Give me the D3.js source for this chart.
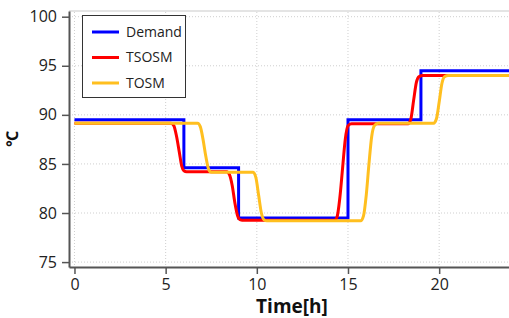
<!DOCTYPE html>
<html>
<head>
<meta charset="utf-8">
<script src="https://d3js.org/d3.v7.min.js"></script>
<style>
  body { margin: 0; background: #fff; }
  svg { display: block; font-family: "Open Sans", "Noto Sans", sans-serif; }
</style>
</head>
<body>
<div id="main_view"></div>
<script>
// chart data
var xTicks = [0, 5, 10, 15, 20];
var yTicks = [75, 80, 85, 90, 95, 100];

var demandTime = [0, 6, 9, 15, 19, 24];
var demandTemp = [89.5, 84.6, 79.5, 89.5, 94.5, 94.5];

var tsosmTime = [0, 5.3, 5.45, 5.6, 5.75, 5.88, 6.0, 6.15,
                 8.35, 8.5, 8.65, 8.8, 8.95, 9.1, 9.3,
                 14.25, 14.4, 14.55, 14.7, 14.85, 15.0, 15.2,
                 18.3, 18.45, 18.6, 18.75, 18.9, 19.1, 24];
var tsosmTemp = [89.15, 89.15, 88.9, 87.8, 86.2, 84.8, 84.3, 84.2,
                 84.2, 83.9, 82.8, 81.0, 79.7, 79.3, 79.25,
                 79.25, 79.6, 81.5, 84.5, 87.5, 88.9, 89.1,
                 89.1, 89.6, 91.5, 93.3, 93.9, 94.0, 94.0];

var tosmTime = [0, 6.75, 6.9, 7.05, 7.2, 7.35, 7.5,
                9.8, 9.95, 10.1, 10.25, 10.4, 10.55,
                15.7, 15.85, 16.0, 16.15, 16.3, 16.45, 16.65,
                19.7, 19.85, 20.0, 20.15, 20.3, 20.5, 24];
var tosmTemp = [89.15, 89.15, 88.8, 87.5, 85.8, 84.5, 84.15,
                84.15, 83.6, 81.8, 80.0, 79.3, 79.2,
                79.2, 79.7, 81.8, 85.0, 87.8, 88.9, 89.15,
                89.15, 89.6, 91.3, 93.2, 93.9, 94.0, 94.0];

var seriesNames = ["Demand", "TSOSM", "TOSM"];
var seriesColors = ["#0000ff", "#ff0000", "#ffbf1f"];

// dimensions
var W = 509, H = 318;
var plotLeft = 69, plotTop = 11, plotBottom = 267;

var xScale = d3.scaleLinear().domain([-0.3, 24]).range([plotLeft, plotLeft + 24.3 * 18.235]);
var yScale = d3.scaleLinear().domain([74.5, 100.58]).range([plotBottom, plotTop]);

var svg = d3.select("#main_view").append("svg")
    .attr("width", W)
    .attr("height", H);

function zip(ts, vs) {
  return ts.map(function(t, i) { return {t: t, v: vs[i]}; });
}

// frame top line
svg.append("line")
    .attr("x1", plotLeft).attr("x2", W)
    .attr("y1", plotTop).attr("y2", plotTop)
    .attr("stroke", "#e4e4e4")
    .attr("stroke-width", 2);

// grid
svg.append("g").selectAll("line")
    .data(xTicks)
  .enter().append("line")
    .attr("x1", function(d) { return xScale(d); })
    .attr("x2", function(d) { return xScale(d); })
    .attr("y1", plotTop + 1).attr("y2", plotBottom)
    .attr("stroke", "#cfcfcf")
    .attr("stroke-dasharray", "1,2");

svg.append("g").selectAll("line")
    .data(yTicks)
  .enter().append("line")
    .attr("x1", plotLeft).attr("x2", W)
    .attr("y1", function(d) { return yScale(d); })
    .attr("y2", function(d) { return yScale(d); })
    .attr("stroke", "#cfcfcf")
    .attr("stroke-dasharray", "1,2");

// lines
var stepLine = d3.line()
    .curve(d3.curveStepAfter)
    .x(function(d) { return xScale(d.t); })
    .y(function(d) { return yScale(d.v); });

var smoothLine = d3.line()
    .curve(d3.curveMonotoneX)
    .x(function(d) { return xScale(d.t); })
    .y(function(d) { return yScale(d.v); });

svg.append("path")
    .datum(zip(demandTime, demandTemp))
    .attr("fill", "none")
    .attr("stroke", seriesColors[0])
    .attr("stroke-width", 3)
    .attr("d", stepLine);

svg.append("path")
    .datum(zip(tsosmTime, tsosmTemp))
    .attr("fill", "none")
    .attr("stroke", seriesColors[1])
    .attr("stroke-width", 3)
    .attr("d", smoothLine);

svg.append("path")
    .datum(zip(tosmTime, tosmTemp))
    .attr("fill", "none")
    .attr("stroke", seriesColors[2])
    .attr("stroke-width", 3)
    .attr("d", smoothLine);

// axes
var xAxis = svg.append("g")
    .attr("transform", "translate(0," + plotBottom + ")")
    .call(d3.axisBottom(xScale).tickValues(xTicks).tickSize(7).tickPadding(5).tickSizeOuter(0));

var yAxis = svg.append("g")
    .attr("transform", "translate(" + plotLeft + ",0)")
    .call(d3.axisLeft(yScale).tickValues(yTicks).tickSize(7).tickPadding(5).tickSizeOuter(0));

[xAxis, yAxis].forEach(function(ax) {
  ax.select(".domain").attr("stroke", "#555").attr("stroke-width", 2);
  ax.selectAll(".tick line").attr("stroke", "#555").attr("stroke-width", 1.5);
  ax.selectAll(".tick text")
      .attr("fill", "#222")
      .style("font-size", "16px")
      .style("font-family", "'Open Sans', 'Noto Sans', sans-serif");
});

// axis titles
svg.append("text")
    .attr("x", 292)
    .attr("y", 313)
    .attr("text-anchor", "middle")
    .attr("font-weight", "bold")
    .attr("font-size", "19px")
    .attr("fill", "#111")
    .text("Time[h]");

svg.append("text")
    .attr("transform", "translate(18,139) rotate(-90)")
    .attr("text-anchor", "middle")
    .attr("font-weight", "bold")
    .attr("font-size", "16px")
    .attr("fill", "#111")
    .text("℃");

// legend
var legend = svg.append("g");
legend.append("rect")
    .attr("x", 82.5).attr("y", 15.5)
    .attr("width", 103).attr("height", 82)
    .attr("fill", "#fff")
    .attr("stroke", "#333")
    .attr("stroke-width", 1);

var rows = legend.selectAll("g.row")
    .data(seriesNames)
  .enter().append("g")
    .attr("class", "row")
    .attr("transform", function(d, i) { return "translate(0," + (32 + i * 25.5) + ")"; });

rows.append("line")
    .attr("x1", 92).attr("x2", 119)
    .attr("stroke", function(d, i) { return seriesColors[i]; })
    .attr("stroke-width", 3);

rows.append("text")
    .attr("x", 126)
    .attr("dy", "0.35em")
    .attr("font-size", "14px")
    .attr("fill", "#222")
    .text(function(d) { return d; });
</script>
</body>
</html>
